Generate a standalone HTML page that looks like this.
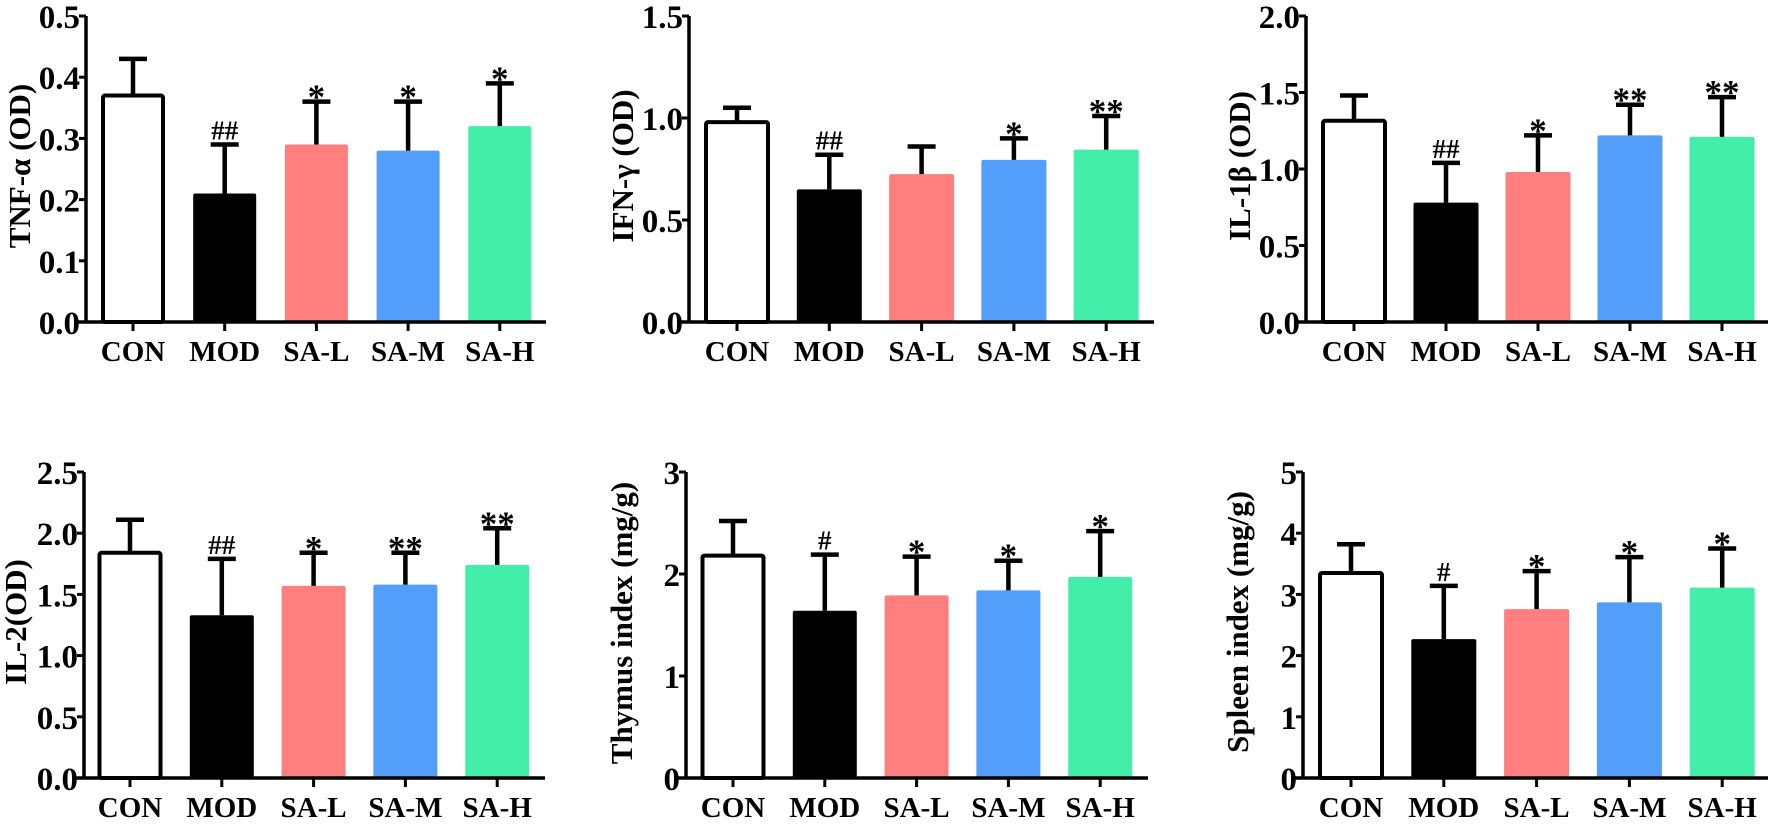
<!DOCTYPE html>
<html><head><meta charset="utf-8"><style>
html,body{margin:0;padding:0;background:#fff;}
svg text{font-family:"Liberation Serif","Times New Roman",serif;font-weight:bold;fill:#000;}
</style></head><body>
<svg id="fig" width="1772" height="820" viewBox="0 0 1772 820" xmlns="http://www.w3.org/2000/svg"></svg>
<script>
const categories = ["CON","MOD","SA-L","SA-M","SA-H"];
const barColors = ["#ffffff","#000000","#ff7f7e","#529efa","#42eeaa"];

const tnfMeans = [0.37,0.21,0.29,0.28,0.32];
const tnfErrTops = [0.43,0.29,0.36,0.36,0.39];
const tnfMarks = ["","##","*","*","*"];
const tnfTicks = [0,0.1,0.2,0.3,0.4,0.5];
const tnfTickLabels = ["0.0","0.1","0.2","0.3","0.4","0.5"];

const ifnMeans = [0.98,0.65,0.725,0.795,0.845];
const ifnErrTops = [1.05,0.82,0.86,0.90,1.01];
const ifnMarks = ["","##","","*","**"];
const ifnTicks = [0,0.5,1.0,1.5];
const ifnTickLabels = ["0.0","0.5","1.0","1.5"];

const il1Means = [1.315,0.78,0.98,1.22,1.21];
const il1ErrTops = [1.48,1.04,1.22,1.42,1.47];
const il1Marks = ["","##","*","**","**"];
const il1Ticks = [0,0.5,1.0,1.5,2.0];
const il1TickLabels = ["0.0","0.5","1.0","1.5","2.0"];

const il2Means = [1.84,1.33,1.57,1.58,1.74];
const il2ErrTops = [2.11,1.79,1.84,1.84,2.04];
const il2Marks = ["","##","*","**","**"];
const il2Ticks = [0,0.5,1.0,1.5,2.0,2.5];
const il2TickLabels = ["0.0","0.5","1.0","1.5","2.0","2.5"];

const thyMeans = [2.18,1.64,1.79,1.84,1.97];
const thyErrTops = [2.52,2.19,2.17,2.13,2.42];
const thyMarks = ["","#","*","*","*"];
const thyTicks = [0,1,2,3];
const thyTickLabels = ["0","1","2","3"];

const splMeans = [3.35,2.27,2.76,2.87,3.11];
const splErrTops = [3.82,3.14,3.38,3.61,3.75];
const splMarks = ["","#","*","*","*"];
const splTicks = [0,1,2,3,4,5];
const splTickLabels = ["0","1","2","3","4","5"];

const panels = [
 {key:"tnf",title:"TNF-α (OD)",means:tnfMeans,errs:tnfErrTops,marks:tnfMarks,ticks:tnfTicks,labels:tnfTickLabels,
  ax:86,end:546,base:322,top:16,c0:133,sp:91.7,bw:63,tx:20,ty:166},
 {key:"ifn",title:"IFN-γ (OD)",means:ifnMeans,errs:ifnErrTops,marks:ifnMarks,ticks:ifnTicks,labels:ifnTickLabels,
  ax:689,end:1154,base:322,top:16,c0:737,sp:92.3,bw:65,tx:623,ty:166},
 {key:"il1b",title:"IL-1β (OD)",means:il1Means,errs:il1ErrTops,marks:il1Marks,ticks:il1Ticks,labels:il1TickLabels,
  ax:1306,end:1768,base:322,top:16,c0:1354,sp:92,bw:65,tx:1240,ty:166},
 {key:"il2",title:"IL-2(OD)",means:il2Means,errs:il2ErrTops,marks:il2Marks,ticks:il2Ticks,labels:il2TickLabels,
  ax:84,end:545,base:778,top:472,c0:130,sp:91.8,bw:64,tx:16,ty:622},
 {key:"thymus",title:"Thymus index (mg/g)",means:thyMeans,errs:thyErrTops,marks:thyMarks,ticks:thyTicks,labels:thyTickLabels,
  ax:686,end:1148,base:778,top:472,c0:733,sp:91.8,bw:64,tx:622,ty:623},
 {key:"spleen",title:"Spleen index (mg/g)",means:splMeans,errs:splErrTops,marks:splMarks,ticks:splTicks,labels:splTickLabels,
  ax:1303,end:1768,base:778,top:472,c0:1351,sp:92.8,bw:65,tx:1238,ty:622}
];

const NS="http://www.w3.org/2000/svg";
const svg=document.getElementById('fig');
function mk(tag,attrs,parent){const e=document.createElementNS(NS,tag);for(const k in attrs)e.setAttribute(k,attrs[k]);(parent||svg).appendChild(e);return e;}

panels.forEach(p=>{
  const g=mk('g',{});
  
  
  const ymax=p.ticks[p.ticks.length-1];
  const y=v=>p.base-(v/ymax)*(p.base-p.top);
  const x=i=>p.c0+i*p.sp;
  p.means.forEach((m,i)=>{
    const r=mk('rect',{x:x(i)-p.bw/2+(i===0?1.5:0),y:y(m),width:p.bw-(i===0?3:0),height:p.base-y(m),rx:2,
      fill:barColors[i],stroke:i===0?'#000':'none','stroke-width':i===0?4:0},g);
    
    
    const eb=mk('path',{d:`M${x(i)},${y(m)} V${y(p.errs[i])} M${x(i)-14},${y(p.errs[i])} H${x(i)+14}`,stroke:'#000','stroke-width':4.5,fill:'none'},g);
    
    
    const mark=p.marks[i];
    if(mark){
      const star=mark.indexOf('*')>=0;
      const fs=star?35:27;
      const t=mk('text',{x:x(i),y:star?y(p.errs[i])+7:y(p.errs[i])-5,'text-anchor':'middle','font-size':fs},g);
      t.textContent=mark;
      
      
    }
    const tk=mk('line',{x1:x(i),x2:x(i),y1:p.base,y2:p.base+9,stroke:'#000','stroke-width':3},g);
    
    
    const xl=mk('text',{x:x(i),y:p.base+39,'text-anchor':'middle','font-size':29},g);
    xl.textContent=categories[i];
    
    
  });
  const ya=mk('line',{x1:p.ax,x2:p.ax,y1:p.top,y2:p.base+1.5,stroke:'#000','stroke-width':3.5},g);
  
  
  const xa=mk('line',{x1:p.ax-9,x2:p.end,y1:p.base,y2:p.base,stroke:'#000','stroke-width':3.5},g);
  
  
  p.ticks.forEach((v,j)=>{
    const tl=mk('line',{x1:p.ax-7,x2:p.ax,y1:y(v),y2:y(v),stroke:'#000','stroke-width':3},g);
    
    
    const tt=mk('text',{x:p.ax-6,y:y(v)+12,'text-anchor':'end','font-size':33},g);
    tt.textContent=p.labels[j];
    
    
  });
  const ti=mk('text',{x:0,y:0,'text-anchor':'middle','font-size':31,transform:`translate(${p.tx+10},${p.ty}) rotate(-90)`},g);
  ti.textContent=p.title;
  
  
});
</script>
</body></html>
